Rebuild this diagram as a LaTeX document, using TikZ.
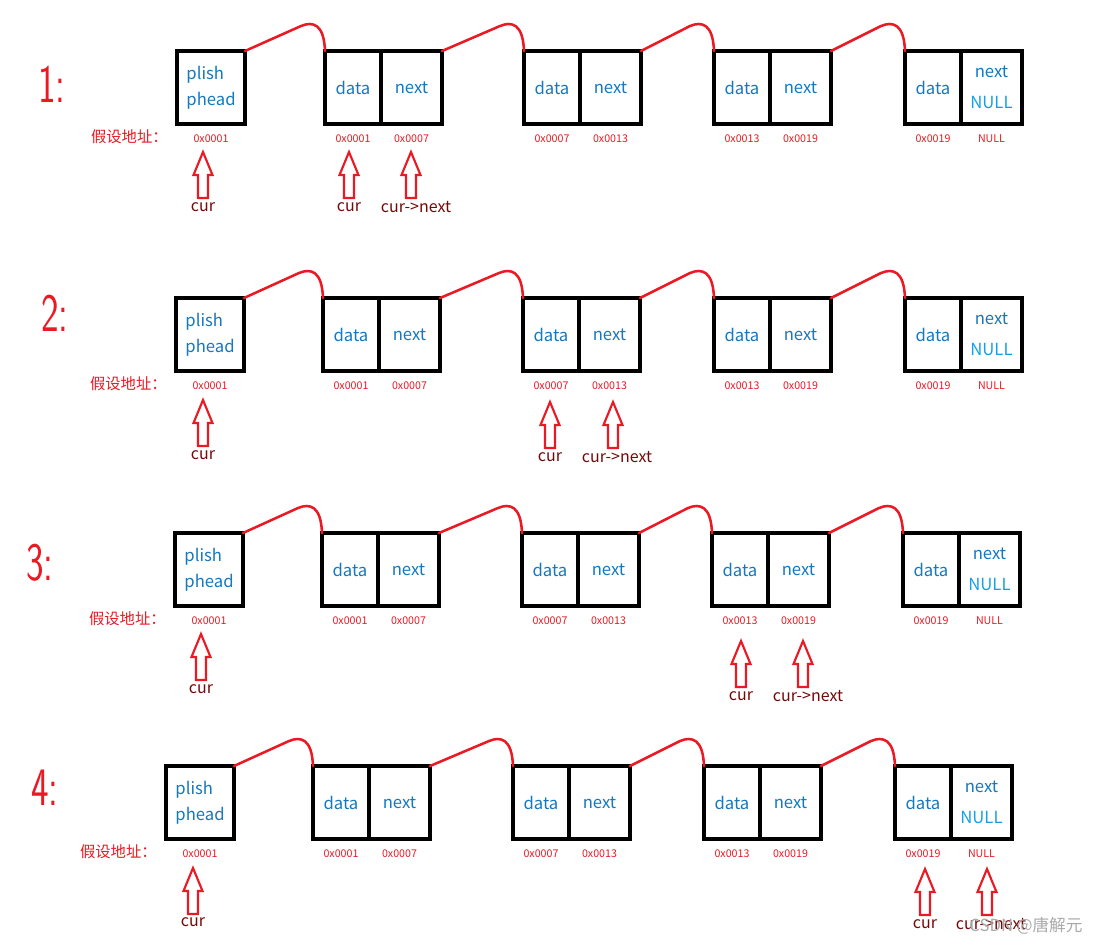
\documentclass[tikz,border=0pt]{standalone}
\usepackage{fontspec}
\setmainfont{Noto Sans CJK SC}
\usetikzlibrary{calc}
\definecolor{txtblue}{RGB}{22,120,190}
\definecolor{nullblue}{RGB}{20,160,230}
\definecolor{lnred}{RGB}{235,25,35}
\definecolor{curred}{RGB}{115,10,10}
\definecolor{wmgray}{RGB}{170,170,170}

\tikzset{
 cellbase/.style={draw=black, line width=2.5pt, anchor=north west, inner sep=0pt, outer sep=0pt, minimum height=54.75pt, text=txtblue, font=\fontsize{12.5}{14}\selectfont},
 pbox/.style={cellbase, minimum width=51pt, align=left, font=\fontsize{12.5}{19.5}\selectfont},
 dcell/.style={cellbase, minimum width=42pt},
 ncell/.style={cellbase, minimum width=45.75pt},
 nullcell/.style={ncell, align=center, font=\fontsize{12.5}{23.25}\selectfont},
 addr/.style={text=lnred, font=\fontsize{8}{9}\selectfont, inner sep=0pt},
 addrlbl/.style={text=lnred, font=\fontsize{11.5}{12}\selectfont, anchor=east, inner sep=0pt},
 link/.style={draw=lnred, line width=1.9pt, line cap=round},
 ptrlbl/.style={text=curred, font=\fontsize{12}{14}\selectfont, inner sep=0pt},
 rowno/.style={text=lnred, font=\sffamily\fontsize{28}{28}\selectfont, yscale=1.45, transform shape},
 watermark/.style={text=wmgray, font=\fontsize{12.5}{14}\selectfont, inner sep=0pt},
 uparr/.pic={\draw[lnred, line width=1.6pt, line join=miter] (0,0) -- (9.5,23) -- (5,23) -- (5,46) -- (-5,46) -- (-5,23) -- (-9.5,23) -- cycle;}
}

\newcommand\hump[2]{%
 \draw[link] (#1) -- ($(#2)+(-24,-25)$) .. controls ($(#2)+(-12,-30)$) and ($(#2)+(-1,-27)$) .. (#2);
}

\newcommand\llrow[7]{%
 \node[pbox] (p#1) at (#3,#2) {plish\\phead};
 \node[addr] (ap#1) at ($(p#1.south)+(0,15)$) {0x0001};
 \node[addrlbl] (al#1) at ($(p#1.west |- ap#1.center)+(-9,-2)$) {假设地址：};
 \foreach \i/\xx/\aa/\ab in {1/#4/0x0001/0x0007,2/#5/0x0007/0x0013,3/#6/0x0013/0x0019}{
   \node[dcell] (d#1\i) at (\xx,#2) {data};
   \node[ncell] (n#1\i) at (d#1\i.north east) {next};
   \node[addr] (ad#1\i) at ($(d#1\i.south)+(0,15)$) {\aa};
   \node[addr] (an#1\i) at ($(n#1\i.south)+(0,15)$) {\ab};
 }
 \node[dcell] (d#14) at (#7,#2) {data};
 \node[nullcell] (n#14) at (d#14.north east) {next\\\textcolor{nullblue}{NULL}};
 \node[addr] (ad#14) at ($(d#14.south)+(0,15)$) {0x0019};
 \node[addr] (an#14) at ($(n#14.south)+(0,15)$) {NULL};
 \hump{p#1.north east}{d#11.north west}
 \foreach \i/\j in {1/2,2/3,3/4}{
   \hump{n#1\i.north east}{d#1\j.north west}
 }
}

\begin{document}
\begin{tikzpicture}[x=0.75pt,y=-0.75pt]
\fill[white] (0,0) rectangle (1100,943);
\useasboundingbox (0,0) rectangle (1100,943);

% row numbers
\begin{scope}[shift={(52,84)}]\node[rowno] (r1) at (0,0) {1:};\end{scope}
\begin{scope}[shift={(55,313)}]\node[rowno] (r2) at (0,0) {2:};\end{scope}
\begin{scope}[shift={(40,563)}]\node[rowno] (r3) at (0,0) {3:};\end{scope}
\begin{scope}[shift={(45,788)}]\node[rowno] (r4) at (0,0) {4:};\end{scope}

% rows
\llrow{1}{51}{177}{325}{524}{714}{905}
\llrow{2}{298}{176}{323}{523}{714}{905}
\llrow{3}{533}{175}{322}{522}{712}{903}
\llrow{4}{766}{166}{313}{513}{704}{895}

% pointers row 1
\pic at (203,152) {uparr}; \node[ptrlbl] (c1a) at (203,207) {cur};
\pic at (349,152) {uparr}; \node[ptrlbl] (c1b) at (349,207) {cur};
\pic at (411,152) {uparr}; \node[ptrlbl] (c1c) at (416,207) {cur->next};
% pointers row 2
\pic at (203,400) {uparr}; \node[ptrlbl] (c2a) at (203,455) {cur};
\pic at (550,402) {uparr}; \node[ptrlbl] (c2b) at (550,457) {cur};
\pic at (613,402) {uparr}; \node[ptrlbl] (c2c) at (617,457) {cur->next};
% pointers row 3
\pic at (201,634) {uparr}; \node[ptrlbl] (c3a) at (201,689) {cur};
\pic at (741,641) {uparr}; \node[ptrlbl] (c3b) at (741,696) {cur};
\pic at (803,641) {uparr}; \node[ptrlbl] (c3c) at (808,696) {cur->next};
% pointers row 4
\pic at (193,868) {uparr}; \node[ptrlbl] (c4a) at (193,922) {cur};
\pic at (925,869) {uparr}; \node[ptrlbl] (c4b) at (925,924) {cur};
\pic at (987,869) {uparr}; \node[ptrlbl] (c4c) at (991,924) {cur->next};

\node[watermark] (wm) at (1026,926) {CSDN @唐解元};
\end{tikzpicture}
\end{document}
